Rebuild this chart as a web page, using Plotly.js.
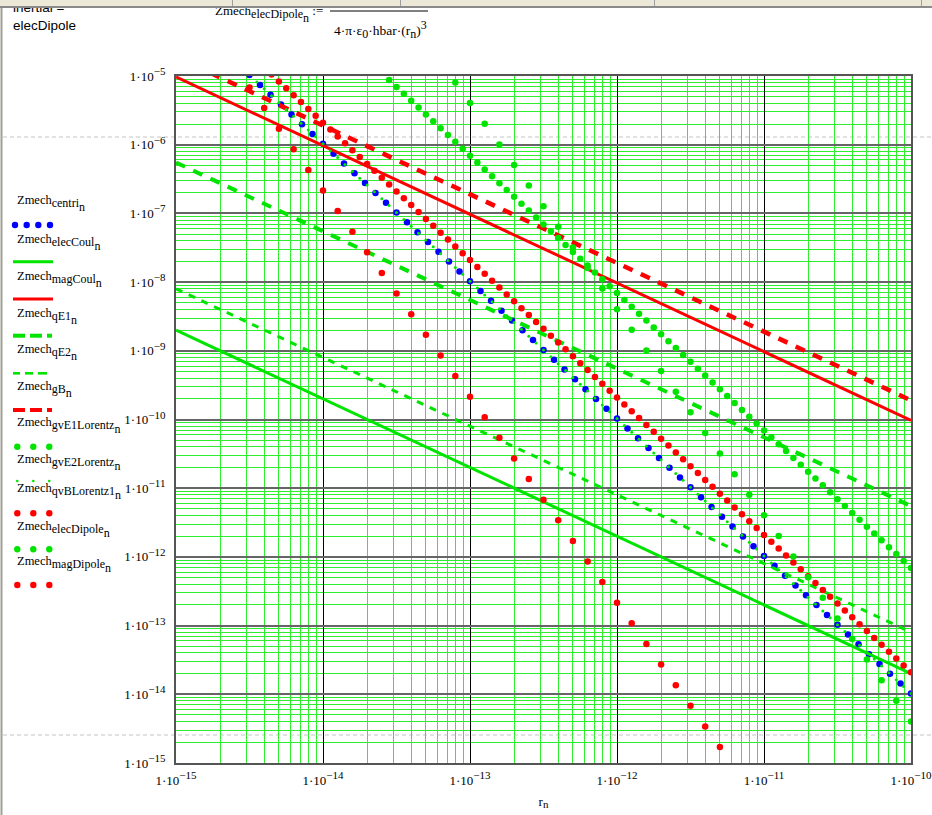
<!DOCTYPE html>
<html><head><meta charset="utf-8">
<script src="https://cdn.plot.ly/plotly-3.0.1.min.js"></script>
<style>html,body{margin:0;padding:0;background:#fff;overflow:hidden}#chart{width:932px;height:815px}</style>
</head><body><div id="chart"></div>
<script>
// ---------------- data ----------------
var seriesNames = ["centri","elecCoul","magCoul","qE1","qE2","gB","gvE1Lorentz","gvE2Lorentz","qvBLorentz1","elecDipole","magDipole"];

var xTickVals = [1e-15,1e-14,1e-13,1e-12,1e-11,1e-10];
var xTickExp  = ["−15","−14","−13","−12","−11","−10"];
var yTickVals = [1e-15,1e-14,1e-13,1e-12,1e-11,1e-10,1e-9,1e-8,1e-7,1e-6,1e-5];
var yTickExp  = ["−15","−14","−13","−12","−11","−10","−9","−8","−7","−6","−5"];

// r_n at each decade (continuous traces)
var rDecade = [1e-15,1e-14,1e-13,1e-12,1e-11,1e-10];
var zElecCoul = [2.0e-9,2.0e-10,2.0e-11,2.0e-12,2.0e-13,2.0e-14];
var zMagCoul  = [9.7e-6,9.7e-7,9.7e-8,9.7e-9,9.7e-10,9.7e-11];
var zQE1      = [5.5e-7,5.5e-8,5.5e-9,5.5e-10,5.5e-11,5.5e-12];
var zQE2      = [8.0e-9,8.0e-10,8.0e-11,8.0e-12,8.0e-13,8.0e-14];
var zGB       = [1.9e-5,1.9e-6,1.9e-7,1.9e-8,1.9e-9,1.9e-10];

// r_n every 0.1 decade
var rTenth = [
1e-15,1.259e-15,1.585e-15,1.995e-15,2.512e-15,3.162e-15,3.981e-15,5.012e-15,6.310e-15,7.943e-15,
1e-14,1.259e-14,1.585e-14,1.995e-14,2.512e-14,3.162e-14,3.981e-14,5.012e-14,6.310e-14,7.943e-14,
1e-13,1.259e-13,1.585e-13,1.995e-13,2.512e-13,3.162e-13,3.981e-13,5.012e-13,6.310e-13,7.943e-13,
1e-12,1.259e-12,1.585e-12,1.995e-12,2.512e-12,3.162e-12,3.981e-12,5.012e-12,6.310e-12,7.943e-12,
1e-11,1.259e-11,1.585e-11,1.995e-11,2.512e-11,3.162e-11,3.981e-11,5.012e-11,6.310e-11,7.943e-11,
1e-10];
var zElecDipole = [
null,null,null,null,null,null,null,null,null,null,
null,null,null,null,null,null,null,null,null,8.04e-6,
4.03e-6,2.02e-6,1.01e-6,5.07e-7,2.54e-7,1.27e-7,6.38e-8,3.20e-8,1.60e-8,8.04e-9,
4.03e-9,2.02e-9,1.01e-9,5.07e-10,2.54e-10,1.27e-10,6.38e-11,3.20e-11,1.60e-11,8.04e-12,
4.03e-12,2.02e-12,1.01e-12,5.07e-13,2.54e-13,1.27e-13,6.38e-14,3.20e-14,1.60e-14,8.04e-15,
4.03e-15];
var zMagDipole = [
null,null,null,null,null,6.81e-6,3.41e-6,1.71e-6,8.57e-7,4.30e-7,
2.15e-7,1.08e-7,5.41e-8,2.71e-8,1.36e-8,6.81e-9,3.41e-9,1.71e-9,8.57e-10,4.30e-10,
2.15e-10,1.08e-10,5.41e-11,2.71e-11,1.36e-11,6.81e-12,3.41e-12,1.71e-12,8.57e-13,4.30e-13,
2.15e-13,1.08e-13,5.41e-14,2.71e-14,1.36e-14,6.81e-15,3.41e-15,1.71e-15,null,null,
null,null,null,null,null,null,null,null,null,null,
null];

// r_n every 0.05 decade
var rHalf = [
1e-15,1.122e-15,1.259e-15,1.413e-15,1.585e-15,1.778e-15,1.995e-15,2.239e-15,2.512e-15,2.818e-15,
3.162e-15,3.548e-15,3.981e-15,4.467e-15,5.012e-15,5.623e-15,6.310e-15,7.079e-15,7.943e-15,8.913e-15,
1e-14,1.122e-14,1.259e-14,1.413e-14,1.585e-14,1.778e-14,1.995e-14,2.239e-14,2.512e-14,2.818e-14,
3.162e-14,3.548e-14,3.981e-14,4.467e-14,5.012e-14,5.623e-14,6.310e-14,7.079e-14,7.943e-14,8.913e-14,
1e-13,1.122e-13,1.259e-13,1.413e-13,1.585e-13,1.778e-13,1.995e-13,2.239e-13,2.512e-13,2.818e-13,
3.162e-13,3.548e-13,3.981e-13,4.467e-13,5.012e-13,5.623e-13,6.310e-13,7.079e-13,7.943e-13,8.913e-13,
1e-12,1.122e-12,1.259e-12,1.413e-12,1.585e-12,1.778e-12,1.995e-12,2.239e-12,2.512e-12,2.818e-12,
3.162e-12,3.548e-12,3.981e-12,4.467e-12,5.012e-12,5.623e-12,6.310e-12,7.079e-12,7.943e-12,8.913e-12,
1e-11,1.122e-11,1.259e-11,1.413e-11,1.585e-11,1.778e-11,1.995e-11,2.239e-11,2.512e-11,2.818e-11,
3.162e-11,3.548e-11,3.981e-11,4.467e-11,5.012e-11,5.623e-11,6.310e-11,7.079e-11,7.943e-11,8.913e-11,
1e-10];
var zGvE1Lorentz = [
null,null,null,null,null,null,null,null,null,null,
null,null,null,null,null,null,null,null,null,null,
null,null,null,null,null,null,null,null,null,8.71e-6,
6.92e-6,5.50e-6,4.37e-6,3.47e-6,2.75e-6,2.19e-6,1.74e-6,1.38e-6,1.10e-6,8.71e-7,
6.92e-7,5.50e-7,4.37e-7,3.47e-7,2.75e-7,2.19e-7,1.74e-7,1.38e-7,1.10e-7,8.71e-8,
6.92e-8,5.50e-8,4.37e-8,3.47e-8,2.75e-8,2.19e-8,1.74e-8,1.38e-8,1.10e-8,8.71e-9,
6.92e-9,5.50e-9,4.37e-9,3.47e-9,2.75e-9,2.19e-9,1.74e-9,1.38e-9,1.10e-9,8.71e-10,
6.92e-10,5.50e-10,4.37e-10,3.47e-10,2.75e-10,2.19e-10,1.74e-10,1.38e-10,1.10e-10,8.71e-11,
6.92e-11,5.50e-11,4.37e-11,3.47e-11,2.75e-11,2.19e-11,1.74e-11,1.38e-11,1.10e-11,8.71e-12,
6.92e-12,5.50e-12,4.37e-12,3.47e-12,2.75e-12,2.19e-12,1.74e-12,1.38e-12,1.10e-12,8.71e-13,
6.92e-13];
var zQvBLorentz1 = [
null,null,null,null,null,null,null,null,null,null,
null,null,null,1.05e-5,8.32e-6,6.61e-6,5.25e-6,4.17e-6,3.31e-6,2.63e-6,
2.09e-6,1.66e-6,1.32e-6,1.05e-6,8.32e-7,6.61e-7,5.25e-7,4.17e-7,3.31e-7,2.63e-7,
2.09e-7,1.66e-7,1.32e-7,1.05e-7,8.32e-8,6.61e-8,5.25e-8,4.17e-8,3.31e-8,2.63e-8,
2.09e-8,1.66e-8,1.32e-8,1.05e-8,8.32e-9,6.61e-9,5.25e-9,4.17e-9,3.31e-9,2.63e-9,
2.09e-9,1.66e-9,1.32e-9,1.05e-9,8.32e-10,6.61e-10,5.25e-10,4.17e-10,3.31e-10,2.63e-10,
2.09e-10,1.66e-10,1.32e-10,1.05e-10,8.32e-11,6.61e-11,5.25e-11,4.17e-11,3.31e-11,2.63e-11,
2.09e-11,1.66e-11,1.32e-11,1.05e-11,8.32e-12,6.61e-12,5.25e-12,4.17e-12,3.31e-12,2.63e-12,
2.09e-12,1.66e-12,1.32e-12,1.05e-12,8.32e-13,6.61e-13,5.25e-13,4.17e-13,3.31e-13,2.63e-13,
2.09e-13,1.66e-13,1.32e-13,1.05e-13,8.32e-14,6.61e-14,5.25e-14,4.17e-14,3.31e-14,2.63e-14,
2.09e-14];
var zGvE2Lorentz = [
null,null,null,null,null,null,null,null,null,null,
null,8.18e-6,6.50e-6,5.16e-6,4.10e-6,3.26e-6,2.59e-6,2.06e-6,1.63e-6,1.30e-6,
1.03e-6,8.18e-7,6.50e-7,5.16e-7,4.10e-7,3.26e-7,2.59e-7,2.06e-7,1.63e-7,1.30e-7,
1.03e-7,8.18e-8,6.50e-8,5.16e-8,4.10e-8,3.26e-8,2.59e-8,2.06e-8,1.63e-8,1.30e-8,
1.03e-8,8.18e-9,6.50e-9,5.16e-9,4.10e-9,3.26e-9,2.59e-9,2.06e-9,1.63e-9,1.30e-9,
1.03e-9,8.18e-10,6.50e-10,5.16e-10,4.10e-10,3.26e-10,2.59e-10,2.06e-10,1.63e-10,1.30e-10,
1.03e-10,8.18e-11,6.50e-11,5.16e-11,4.10e-11,3.26e-11,2.59e-11,2.06e-11,1.63e-11,1.30e-11,
1.03e-11,8.18e-12,6.50e-12,5.16e-12,4.10e-12,3.26e-12,2.59e-12,2.06e-12,1.63e-12,1.30e-12,
1.03e-12,8.18e-13,6.50e-13,5.16e-13,4.10e-13,3.26e-13,2.59e-13,2.06e-13,1.63e-13,1.30e-13,
1.03e-13,8.18e-14,6.50e-14,5.16e-14,4.10e-14,3.26e-14,2.59e-14,2.06e-14,1.63e-14,1.30e-14,
1.03e-14];

// dotted-line samples of the centri trace (every 1/14 decade)
var rCentri = [
3.162e-15,3.728e-15,4.394e-15,5.179e-15,6.105e-15,7.197e-15,8.483e-15,
1e-14,1.179e-14,1.390e-14,1.638e-14,1.931e-14,2.276e-14,2.683e-14,3.162e-14,3.728e-14,4.394e-14,5.179e-14,6.105e-14,7.197e-14,8.483e-14,
1e-13,1.179e-13,1.390e-13,1.638e-13,1.931e-13,2.276e-13,2.683e-13,3.162e-13,3.728e-13,4.394e-13,5.179e-13,6.105e-13,7.197e-13,8.483e-13,
1e-12,1.179e-12,1.390e-12,1.638e-12,1.931e-12,2.276e-12,2.683e-12,3.162e-12,3.728e-12,4.394e-12,5.179e-12,6.105e-12,7.197e-12,8.483e-12,
1e-11,1.179e-11,1.390e-11,1.638e-11,1.931e-11,2.276e-11,2.683e-11,3.162e-11,3.728e-11,4.394e-11,5.179e-11,6.105e-11,7.197e-11,8.483e-11,
1e-10];
var zCentri = [
1.030e-5,7.413e-6,5.335e-6,3.839e-6,2.763e-6,1.989e-6,1.431e-6,
1.030e-6,7.413e-7,5.335e-7,3.839e-7,2.763e-7,1.989e-7,1.431e-7,
1.030e-7,7.413e-8,5.335e-8,3.839e-8,2.763e-8,1.989e-8,1.431e-8,
1.030e-8,7.413e-9,5.335e-9,3.839e-9,2.763e-9,1.989e-9,1.431e-9,
1.030e-9,7.413e-10,5.335e-10,3.839e-10,2.763e-10,1.989e-10,1.431e-10,
1.030e-10,7.413e-11,5.335e-11,3.839e-11,2.763e-11,1.989e-11,1.431e-11,
1.030e-11,7.413e-12,5.335e-12,3.839e-12,2.763e-12,1.989e-12,1.431e-12,
1.030e-12,7.413e-13,5.335e-13,3.839e-13,2.763e-13,1.989e-13,1.431e-13,
1.030e-13,7.413e-14,5.335e-14,3.839e-14,2.763e-14,1.989e-14,1.431e-14,
1.030e-14];

// ---------------- styling ----------------
var BLUE = "#0000ff", RED = "#ff0000", GREEN = "#00e400", GRID = "#2eee2e";
var SERIF = "Liberation Serif, Times New Roman, serif";
var SANS = "Liberation Sans, Arial, sans-serif";

// plot area in pixels
var PL = 176, PR = 911, PT = 76, PB = 763;
function px(x){ return (x - PL) / (PR - PL); }
function py(y){ return (PB - y) / (PB - PT); }

function sub(t, size){ return "<sub><span style='font-size:"+size+"px'>"+t+"</span></sub>"; }
function sup(t, size){ return "<sup><span style='font-size:"+size+"px'>"+t+"</span></sup>"; }
function lowN(size){ return "<span style='font-size:"+size+"px;baseline-shift:-4px'>n</span>"; }
function tickLabel(e){ return "1·10" + sup(e, 11); }

function lineTrace(x, y, color, width, dash){
  return {x:x, y:y, type:"scatter", mode:"lines", line:{color:color, width:width, dash:dash||"solid"}, hoverinfo:"skip", showlegend:false};
}
function dotTrace(x, y, color, size){
  return {x:x, y:y, type:"scatter", mode:"markers", marker:{color:color, size:size, line:{width:0}}, hoverinfo:"skip", showlegend:false};
}

var traces = [
  dotTrace(rCentri, zCentri, BLUE, 6.5),
  lineTrace(rDecade, zElecCoul, GREEN, 3),
  lineTrace(rDecade, zMagCoul, RED, 3),
  lineTrace(rDecade, zQE1, GREEN, 4, "10px,9px"),
  lineTrace(rDecade, zQE2, GREEN, 3, "7px,7px"),
  lineTrace(rDecade, zGB, RED, 4.5, "10px,9px"),
  dotTrace(rHalf, zGvE1Lorentz, GREEN, 6.5),
  dotTrace(rHalf, zGvE2Lorentz, GREEN, 3),
  dotTrace(rHalf, zQvBLorentz1, RED, 6.5),
  dotTrace(rTenth, zElecDipole, GREEN, 6.5),
  dotTrace(rTenth, zMagDipole, RED, 6.5)
];

// minor grid positions (2..9 in every decade)
function minorVals(a, b){ var v=[]; for (var e=a; e<b; e++) for (var m=2; m<=9; m++) v.push(m*Math.pow(10,e)); return v; }

var shapes = [];
var annotations = [];

// page furniture: left border, page-break dashed lines
shapes.push({type:"line", xref:"paper", yref:"paper", x0:px(1.5), x1:px(1.5), y0:py(0), y1:py(815), line:{color:"#a29e94", width:2}, layer:"above"});
[137, 735].forEach(function(dy){
  shapes.push({type:"line", xref:"paper", yref:"paper", x0:px(3), x1:px(932), y0:py(dy), y1:py(dy), line:{color:"#c4c4c4", width:1, dash:"4px,3px"}, layer:"below"});
});

// formula header
annotations.push({xref:"paper", yref:"paper", x:px(11), y:py(8), xanchor:"left", yanchor:"middle", showarrow:false, text:"inertial =", font:{family:SANS, size:13.5, color:"#000"}});
annotations.push({xref:"paper", yref:"paper", x:px(11), y:py(26), xanchor:"left", yanchor:"middle", showarrow:false, text:"elecDipole", font:{family:SANS, size:13.5, color:"#000"}});
annotations.push({xref:"paper", yref:"paper", x:px(325), y:py(14), xanchor:"right", yanchor:"middle", showarrow:false,
  text:"Zmech" + sub("elecDipole" + lowN(12), 12) + " :=", font:{family:SERIF, size:13, color:"#000"}});
annotations.push({xref:"paper", yref:"paper", x:px(380), y:py(30), xanchor:"center", yanchor:"middle", showarrow:false,
  text:"4·π·ε" + sub("0", 12) + "·hbar·(r" + sub("n", 12) + ")" + sup("3", 12), font:{family:SERIF, size:13.5, color:"#000"}});
shapes.push({type:"line", xref:"paper", yref:"paper", x0:px(330), x1:px(428), y0:py(11), y1:py(11), line:{color:"#000", width:1}, layer:"above"});

// toolbar strip at the very top (drawn last so it covers the clipped text)
annotations.push({xref:"paper", yref:"paper", x:px(0), y:py(0), xanchor:"left", yanchor:"top", showarrow:false, text:" ",
  font:{size:2}, width:932, height:6, bgcolor:"#ece9d8", borderwidth:0, borderpad:0});
[232, 400, 654, 921].forEach(function(sx){
  annotations.push({xref:"paper", yref:"paper", x:px(sx), y:py(0), xanchor:"left", yanchor:"top", showarrow:false, text:" ",
    font:{size:2}, width:1, height:6, bgcolor:"#a0a0a0", borderwidth:0, borderpad:0});
});
annotations.push({xref:"paper", yref:"paper", x:px(0), y:py(6), xanchor:"left", yanchor:"top", showarrow:false, text:" ",
  font:{size:1}, width:932, height:1.5, bgcolor:"#8a8a8a", borderwidth:0, borderpad:0});

// custom legend (text above sample)
var legTextY = [204, 242, 279, 316, 352, 389, 425, 462, 492, 529, 564];
var legKeyY  = [225, 261.7, 299, 335.7, 373.3, 410, 446.7, 481, 513.3, 549.3, 585];
var legKeys = [
  {kind:"dots", color:BLUE, r:3.2, xs:[15,26.7,38.3,50]},
  {kind:"line", color:GREEN, w:3},
  {kind:"line", color:RED, w:3},
  {kind:"dash", color:GREEN, w:4, segs:[[13,25],[30,42],[47,52]]},
  {kind:"dash", color:GREEN, w:2.6, segs:[[13,20],[25,33],[38,47]]},
  {kind:"dash", color:RED, w:4, segs:[[13,25],[30,42],[47,52]]},
  {kind:"dots", color:GREEN, r:3.2, xs:[17.3,33.3,49.3]},
  {kind:"dots", color:GREEN, r:1.3, xs:[17.3,33.3,49.3]},
  {kind:"dots", color:RED, r:3.2, xs:[17.3,33.3,49.3]},
  {kind:"dots", color:GREEN, r:3.2, xs:[17.3,33.3,49.3]},
  {kind:"dots", color:RED, r:3.2, xs:[17.3,33.3,49.3]}
];
seriesNames.forEach(function(nm, i){
  annotations.push({xref:"paper", yref:"paper", x:px(15), y:py(legTextY[i]), xanchor:"left", yanchor:"middle", showarrow:false,
    text:"Zmech" + sub(nm + lowN(12), 12), font:{family:SERIF, size:12.5, color:"#000"}});
  var k = legKeys[i], yy = legKeyY[i];
  if (k.kind === "dots") {
    k.xs.forEach(function(cx){
      shapes.push({type:"circle", xref:"paper", yref:"paper", x0:px(cx-k.r), x1:px(cx+k.r), y0:py(yy+k.r), y1:py(yy-k.r), fillcolor:k.color, line:{width:0}, layer:"above"});
    });
  } else if (k.kind === "line") {
    shapes.push({type:"line", xref:"paper", yref:"paper", x0:px(13), x1:px(53), y0:py(yy), y1:py(yy), line:{color:k.color, width:k.w}, layer:"above"});
  } else {
    k.segs.forEach(function(s){
      shapes.push({type:"line", xref:"paper", yref:"paper", x0:px(s[0]), x1:px(s[1]), y0:py(yy), y1:py(yy), line:{color:k.color, width:k.w}, layer:"above"});
    });
  }
});

var layout = {
  width:932, height:815,
  margin:{l:PL, r:932-PR, t:PT, b:815-PB, pad:0},
  paper_bgcolor:"#ffffff", plot_bgcolor:"rgba(0,0,0,0)",
  showlegend:false,
  font:{family:SERIF, size:13, color:"#000"},
  xaxis:{
    type:"log", range:[-15,-10], tickmode:"array", tickvals:xTickVals, ticktext:xTickExp.map(tickLabel),
    showgrid:true, gridcolor:"#000000", gridwidth:1,
    minor:{tickmode:"array", tickvals:minorVals(-15,-10), showgrid:true, gridcolor:GRID, gridwidth:1, ticks:""},
    showline:true, linecolor:"#555555", linewidth:2, mirror:true, ticks:"", zeroline:false,
    tickfont:{family:SERIF, size:13, color:"#000"}, ticklabelstandoff:4, ticklabeloverflow:"allow",
    title:{text:"r" + sub("n", 11), font:{family:SERIF, size:13, color:"#000"}, standoff:10}
  },
  yaxis:{
    type:"log", range:[-15,-5], tickmode:"array", tickvals:yTickVals, ticktext:yTickExp.map(tickLabel),
    showgrid:true, gridcolor:"#666666", gridwidth:2,
    minor:{tickmode:"array", tickvals:minorVals(-15,-5), showgrid:true, gridcolor:GRID, gridwidth:1, ticks:""},
    showline:true, linecolor:"#555555", linewidth:2, mirror:true, ticks:"", zeroline:false,
    tickfont:{family:SERIF, size:13, color:"#000"}, ticklabelstandoff:6, ticklabeloverflow:"allow"
  },
  shapes:shapes,
  annotations:annotations
};

Plotly.newPlot("chart", traces, layout, {staticPlot:true, displayModeBar:false});
</script></body></html>
